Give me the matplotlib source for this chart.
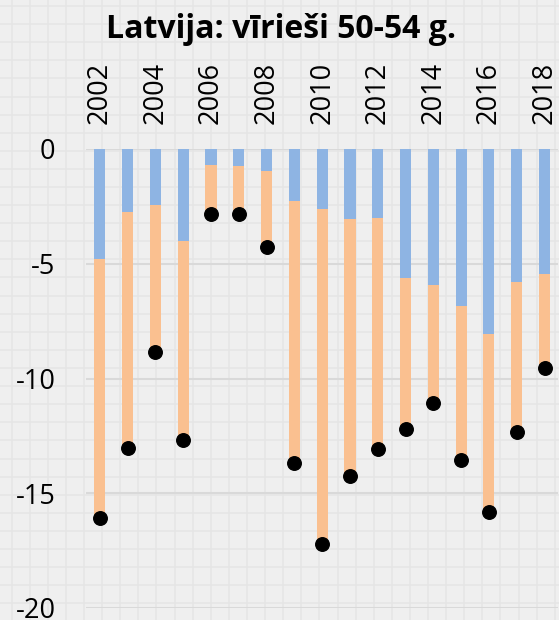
import matplotlib.pyplot as plt
from matplotlib.lines import Line2D

years = list(range(2002, 2019))
blue_vals = [-4.79, -2.76, -2.45, -4.01, -0.70, -0.73, -0.96, -2.25, -2.61,
             -3.05, -3.01, -5.61, -5.93, -6.83, -8.06, -5.80, -5.46]
totals = [-16.08, -13.01, -8.86, -12.68, -2.82, -2.82, -4.28, -13.67, -17.21,
          -14.25, -13.07, -12.18, -11.08, -13.55, -15.80, -12.33, -9.54]
orange_vals = [t - b for t, b in zip(totals, blue_vals)]
tick_years = years[::2]
y_ticks = [0, -5, -10, -15, -20]

W, H = 559, 620
fig = plt.figure(figsize=(W / 100, H / 100), dpi=100)
fig.patch.set_facecolor('#efefef')

# faint background texture grid
step = 18.1
x = 11.7
while x < W:
    fig.add_artist(Line2D([x / W, x / W], [0, 1], color='#e5e5e5', lw=1.1, zorder=0))
    x += step
y = 6
while y < H:
    fig.add_artist(Line2D([0, 1], [1 - y / H, 1 - y / H], color='#e5e5e5', lw=1.1, zorder=0))
    y += step

ax = fig.add_axes([86 / W, 1 - 608 / H, (558.4 - 86) / W, (608 - 149) / H])
ax.set_facecolor('none')

ax.bar(years, blue_vals, width=0.4, color='#8eb4e3', zorder=3)
ax.bar(years, orange_vals, width=0.4, bottom=blue_vals, color='#fac090', zorder=3)
ax.scatter(years, totals, s=95, color='black', zorder=4)

ax.set_xlim(2001.5, 2018.5)
ax.set_ylim(-20, 0)
ax.set_yticks(y_ticks)
ax.set_yticklabels([str(v) for v in y_ticks], fontsize=19.5, family='Open Sans')
ax.set_xticks(tick_years)
ax.set_xticklabels([str(v) for v in tick_years], rotation=90, fontsize=19.5, family='Open Sans')
ax.xaxis.tick_top()
ax.tick_params(axis='both', length=0)
ax.tick_params(axis='x', pad=18)
ax.tick_params(axis='y', pad=22)
for lab in ax.get_yticklabels():
    lab.set_horizontalalignment('right')
ax.grid(axis='y', color='#d9d9d9', lw=1.5, zorder=1)
ax.set_axisbelow(True)
for s in ax.spines.values():
    s.set_visible(False)

fig.text(281 / W, 1 - 30 / H, 'Latvija: vīrieši 50-54 g.', ha='center', va='center',
         fontsize=23, fontweight='bold', family='Open Sans')

fig.savefig('out.png', dpi=100, facecolor=fig.get_facecolor())
